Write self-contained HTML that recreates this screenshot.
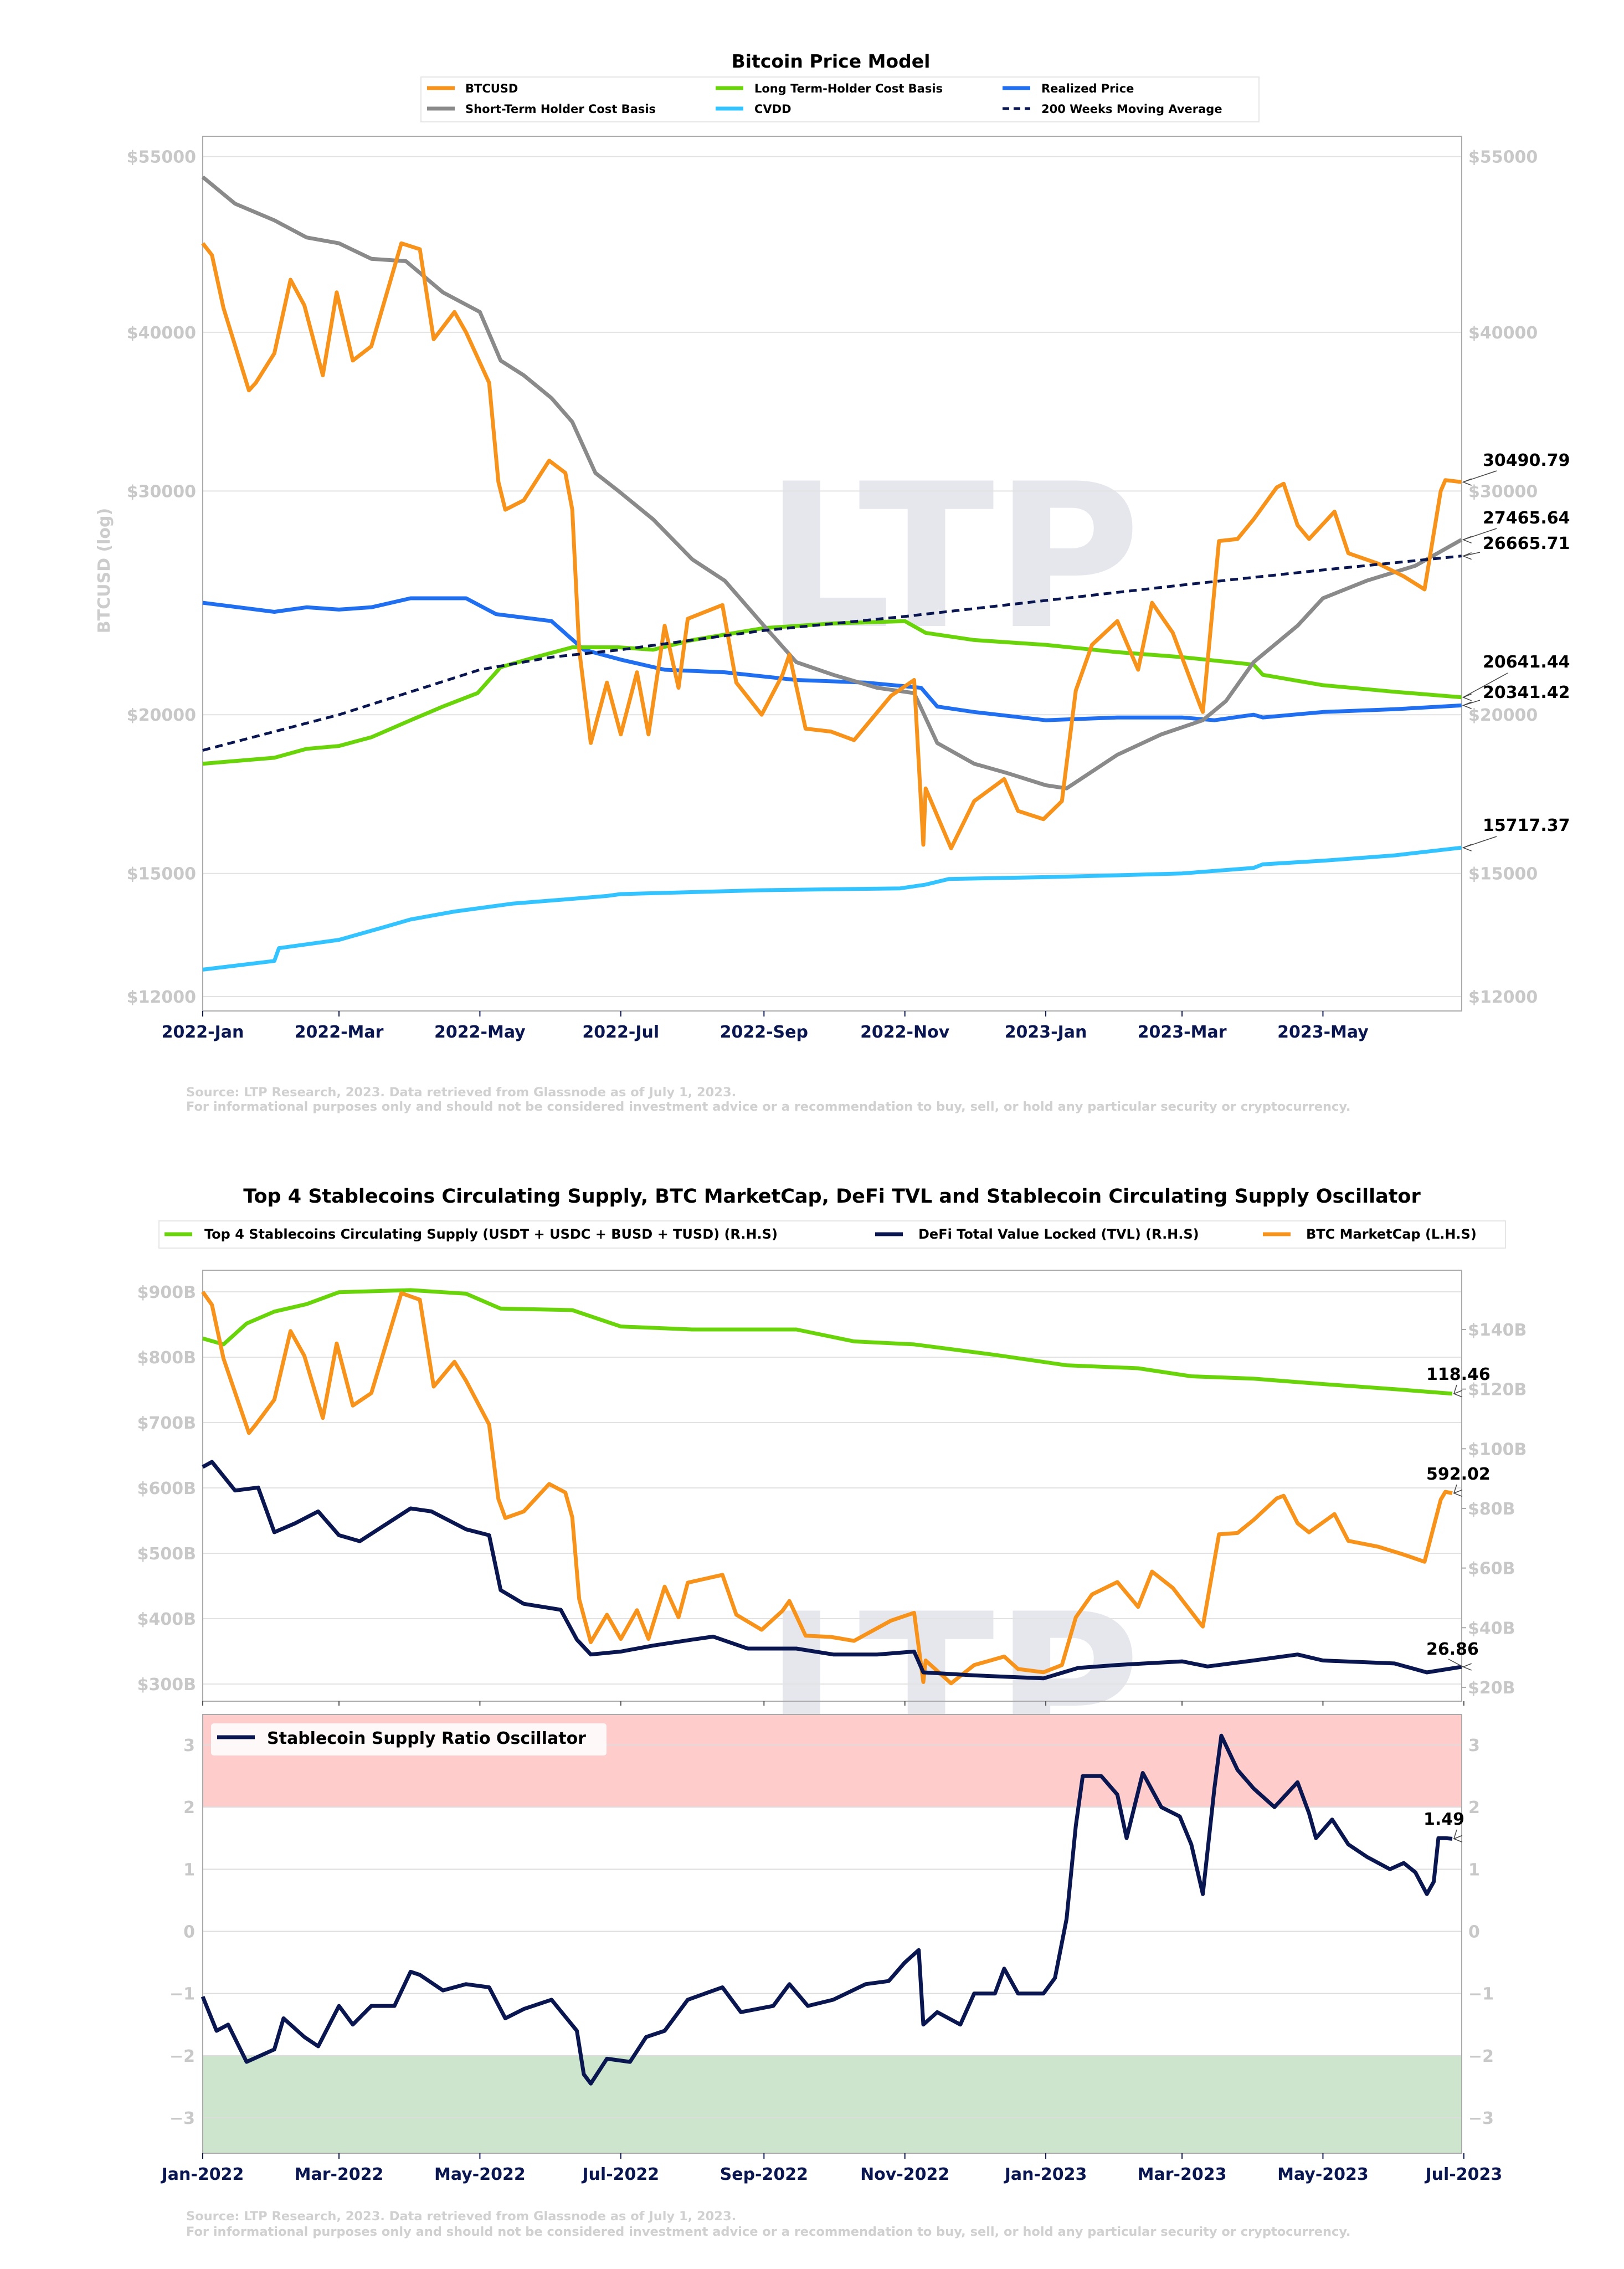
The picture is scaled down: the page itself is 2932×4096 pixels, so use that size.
<!DOCTYPE html>
<html><head><meta charset="utf-8"><style>
html,body{margin:0;padding:0;background:#fff}
svg{display:block;font-family:"DejaVu Sans","Liberation Sans",sans-serif}
</style></head><body>
<svg id="svg" width="2932" height="4096" viewBox="0 0 2932 4096" xmlns="http://www.w3.org/2000/svg">
<rect width="2932" height="4096" fill="#fff"/>
<g id="wm" opacity="0.12">
<text x="1380" y="1130" font-size="360" font-weight="bold" fill="#3a3f70">LTP</text>
<text x="1380" y="3170" font-size="360" font-weight="bold" fill="#3a3f70">LTP</text>
</g>
<text x="1500" y="122" font-size="33" font-weight="bold" text-anchor="middle" fill="#000">Bitcoin Price Model</text>
<g>
<rect x="760" y="139" width="1513" height="81" fill="#fff" stroke="#e6e6e6" stroke-width="2"/>
<line x1="771" y1="159" x2="821" y2="159" stroke="#f7931a" stroke-width="7"/><text x="840" y="167" font-size="21" font-weight="bold">BTCUSD</text>
<line x1="771" y1="196" x2="821" y2="196" stroke="#8a8a8a" stroke-width="7"/><text x="840" y="204" font-size="21" font-weight="bold">Short-Term Holder Cost Basis</text>
<line x1="1292" y1="159" x2="1342" y2="159" stroke="#6ad40a" stroke-width="7"/><text x="1362" y="167" font-size="21" font-weight="bold">Long Term-Holder Cost Basis</text>
<line x1="1292" y1="196" x2="1342" y2="196" stroke="#33c3ff" stroke-width="7"/><text x="1362" y="204" font-size="21" font-weight="bold">CVDD</text>
<line x1="1810" y1="159" x2="1860" y2="159" stroke="#1f6ff0" stroke-width="7"/><text x="1880" y="167" font-size="21" font-weight="bold">Realized Price</text>
<line x1="1810" y1="196" x2="1860" y2="196" stroke="#0a1650" stroke-width="5" stroke-dasharray="12,8"/><text x="1880" y="204" font-size="21" font-weight="bold">200 Weeks Moving Average</text>
</g>
<text transform="translate(198,1030) rotate(-90)" font-size="30" font-weight="bold" fill="#cccccc" text-anchor="middle">BTCUSD (log)</text>
<g id="c1"></g>
<text x="336" y="1979" font-size="22.5" font-weight="bold" fill="#d0d0d0">Source: LTP Research, 2023. Data retrieved from Glassnode as of July 1, 2023.</text>
<text x="336" y="2005" font-size="22.5" font-weight="bold" fill="#d0d0d0">For informational purposes only and should not be considered investment advice or a recommendation to buy, sell, or hold any particular security or cryptocurrency.</text>

<text x="1502" y="2171" font-size="35" font-weight="bold" text-anchor="middle" fill="#000">Top 4 Stablecoins Circulating Supply, BTC MarketCap, DeFi TVL and Stablecoin Circulating Supply Oscillator</text>
<g>
<rect x="287" y="2204" width="2431" height="49" fill="#fff" stroke="#e6e6e6" stroke-width="2"/>
<line x1="297" y1="2228" x2="347" y2="2228" stroke="#6ad40a" stroke-width="7"/><text x="369" y="2236" font-size="24" font-weight="bold">Top 4 Stablecoins Circulating Supply (USDT + USDC + BUSD + TUSD) (R.H.S)</text>
<line x1="1580" y1="2228" x2="1630" y2="2228" stroke="#0a1650" stroke-width="7"/><text x="1658" y="2236" font-size="24" font-weight="bold">DeFi Total Value Locked (TVL) (R.H.S)</text>
<line x1="2280" y1="2228" x2="2330" y2="2228" stroke="#f7931a" stroke-width="7"/><text x="2358" y="2236" font-size="24" font-weight="bold">BTC MarketCap (L.H.S)</text>
</g>
<g id="c2"></g>
<g id="c3"></g>
<text x="336" y="4008" font-size="22.5" font-weight="bold" fill="#d0d0d0">Source: LTP Research, 2023. Data retrieved from Glassnode as of July 1, 2023.</text>
<text x="336" y="4036" font-size="22.5" font-weight="bold" fill="#d0d0d0">For informational purposes only and should not be considered investment advice or a recommendation to buy, sell, or hold any particular security or cryptocurrency.</text>
</svg>
<script>
// ---------- DATA ----------
const btcDates=["2022-01-01","2022-01-05","2022-01-10","2022-01-21","2022-01-24","2022-02-01","2022-02-08","2022-02-14","2022-02-22","2022-02-28","2022-03-07","2022-03-15","2022-03-28","2022-04-05","2022-04-11","2022-04-20","2022-04-25","2022-05-05","2022-05-09","2022-05-12","2022-05-20","2022-05-31","2022-06-07","2022-06-10","2022-06-13","2022-06-18","2022-06-25","2022-07-01","2022-07-08","2022-07-13","2022-07-20","2022-07-26","2022-07-30","2022-08-14","2022-08-20","2022-08-31","2022-09-09","2022-09-12","2022-09-19","2022-09-30","2022-10-10","2022-10-26","2022-11-05","2022-11-09","2022-11-10","2022-11-21","2022-12-01","2022-12-14","2022-12-20","2022-12-31","2023-01-08","2023-01-14","2023-01-21","2023-02-01","2023-02-10","2023-02-16","2023-02-25","2023-03-09","2023-03-10","2023-03-17","2023-03-25","2023-04-01","2023-04-11","2023-04-14","2023-04-20","2023-04-25","2023-05-06","2023-05-12","2023-05-25","2023-06-05","2023-06-14","2023-06-21","2023-06-23","2023-06-30"];
const btcPrice=[47000,46000,41800,36000,36500,38500,44000,42000,37000,43000,38000,39000,47000,46500,39500,41500,40000,36500,30500,29000,29500,31700,31000,29000,22500,19000,21200,19300,21600,19300,23500,21000,23800,24400,21200,20000,21500,22300,19500,19400,19100,20700,21300,15800,17500,15700,17100,17800,16800,16550,17100,20900,22700,23700,21700,24500,23200,20300,20100,27400,27500,28500,30200,30400,28200,27500,28900,26800,26300,25700,25100,30000,30600,30490.79];
const mcapDates=["2022-01-01","2022-01-05","2022-01-10","2022-01-21","2022-01-24","2022-02-01","2022-02-08","2022-02-14","2022-02-22","2022-02-28","2022-03-07","2022-03-15","2022-03-28","2022-04-05","2022-04-11","2022-04-20","2022-04-25","2022-05-05","2022-05-09","2022-05-12","2022-05-20","2022-05-31","2022-06-07","2022-06-10","2022-06-13","2022-06-18","2022-06-25","2022-07-01","2022-07-08","2022-07-13","2022-07-20","2022-07-26","2022-07-30","2022-08-14","2022-08-20","2022-08-31","2022-09-09","2022-09-12","2022-09-19","2022-09-30","2022-10-10","2022-10-26","2022-11-05","2022-11-09","2022-11-10","2022-11-21","2022-12-01","2022-12-14","2022-12-20","2022-12-31","2023-01-08","2023-01-14","2023-01-21","2023-02-01","2023-02-10","2023-02-16","2023-02-25","2023-03-09","2023-03-10","2023-03-17","2023-03-25","2023-04-01","2023-04-11","2023-04-14","2023-04-20","2023-04-25","2023-05-06","2023-05-12","2023-05-25","2023-06-05","2023-06-14","2023-06-21","2023-06-23","2023-06-26"];
const btcMcap=[900,880,798,684,697,735,840,802,707,821,726,745,898,888,755,793,764,697,583,554,564,606,593,555,430,364,406,369,413,369,449,402,455,467,406,383,412,427,374,372,366,397,409,303,336,301,329,342,323,318,329,402,437,456,418,472,447,392,388,529,531,551,584,588,546,532,560,519,510,498,487,582,594,592.02];
const sthDates=["2022-01-01","2022-01-15","2022-02-01","2022-02-15","2022-03-01","2022-03-15","2022-03-30","2022-04-15","2022-05-01","2022-05-10","2022-05-20","2022-06-01","2022-06-10","2022-06-20","2022-06-30","2022-07-15","2022-08-01","2022-08-15","2022-09-01","2022-09-15","2022-10-01","2022-10-20","2022-11-05","2022-11-15","2022-12-01","2022-12-15","2023-01-01","2023-01-10","2023-02-01","2023-02-20","2023-03-10","2023-03-20","2023-04-01","2023-04-20","2023-05-01","2023-05-20","2023-06-10","2023-06-30"];
const sthValues=[53000,50500,49000,47500,47000,45700,45500,43000,41500,38000,37000,35500,34000,31000,30000,28500,26500,25500,23500,22000,21500,21000,20800,19000,18300,18000,17600,17500,18600,19300,19800,20500,22000,23500,24700,25500,26200,27465.64];
const lthDates=["2022-01-01","2022-02-01","2022-02-15","2022-03-01","2022-03-15","2022-04-01","2022-04-15","2022-04-30","2022-05-10","2022-05-25","2022-06-10","2022-06-30","2022-07-15","2022-08-01","2022-09-01","2022-10-01","2022-11-01","2022-11-10","2022-12-01","2023-01-01","2023-02-01","2023-03-01","2023-04-01","2023-04-05","2023-05-01","2023-06-01","2023-06-30"];
const lthValues=[18300,18500,18800,18900,19200,19800,20300,20800,21800,22200,22600,22600,22500,22900,23400,23600,23700,23200,22900,22700,22400,22200,21900,21500,21100,20850,20641.44];
const rpDates=["2022-01-01","2022-02-01","2022-02-15","2022-03-01","2022-03-15","2022-04-01","2022-04-25","2022-05-08","2022-06-01","2022-06-15","2022-07-01","2022-07-20","2022-08-15","2022-09-15","2022-10-15","2022-11-08","2022-11-15","2022-12-01","2023-01-01","2023-02-01","2023-03-01","2023-03-15","2023-04-01","2023-04-05","2023-05-01","2023-06-01","2023-06-30"];
const rpValues=[24500,24100,24300,24200,24300,24700,24700,24000,23700,22500,22100,21700,21600,21300,21200,21000,20300,20100,19800,19900,19900,19800,20000,19900,20100,20200,20341.42];
const wmaDates=["2022-01-01","2022-03-01","2022-05-01","2022-06-01","2022-07-01","2022-09-01","2022-11-01","2023-01-01","2023-03-01","2023-05-01","2023-06-30"];
const wmaValues=[18750,20000,21700,22200,22500,23300,23900,24600,25300,26000,26665.71];
const cvddDates=["2022-01-01","2022-02-01","2022-02-03","2022-03-01","2022-03-20","2022-04-01","2022-04-20","2022-05-15","2022-06-05","2022-06-25","2022-07-01","2022-08-30","2022-10-30","2022-11-10","2022-11-20","2023-01-01","2023-02-01","2023-03-01","2023-04-01","2023-04-05","2023-05-01","2023-06-01","2023-06-30"];
const cvddValues=[12600,12800,13100,13300,13600,13800,14000,14200,14300,14400,14450,14550,14600,14700,14850,14900,14950,15000,15150,15250,15350,15500,15717.37];
const yTicks1=[12000,15000,20000,30000,40000,55000];
const xTickDates1=["2022-01-01","2022-03-01","2022-05-01","2022-07-01","2022-09-01","2022-11-01","2023-01-01","2023-03-01","2023-05-01"];
const xTickLabels1=["2022-Jan","2022-Mar","2022-May","2022-Jul","2022-Sep","2022-Nov","2023-Jan","2023-Mar","2023-May"];

const scDates=["2022-01-01","2022-01-10","2022-01-20","2022-02-01","2022-02-15","2022-03-01","2022-04-01","2022-04-25","2022-05-10","2022-06-10","2022-07-01","2022-08-01","2022-09-15","2022-10-10","2022-11-05","2022-12-10","2023-01-10","2023-02-10","2023-03-05","2023-04-01","2023-05-01","2023-06-01","2023-06-26"];
const scValues=[137,135,142,146,148.5,152.5,153.2,152,147,146.5,141,140,140,136,135,131.5,128,127,124.3,123.5,121.7,120,118.46];
const tvlDates=["2022-01-01","2022-01-05","2022-01-15","2022-01-25","2022-02-01","2022-02-10","2022-02-20","2022-03-01","2022-03-10","2022-04-01","2022-04-10","2022-04-25","2022-05-05","2022-05-10","2022-05-20","2022-06-05","2022-06-12","2022-06-18","2022-07-01","2022-07-15","2022-08-01","2022-08-10","2022-08-25","2022-09-15","2022-10-01","2022-10-20","2022-11-05","2022-11-09","2022-12-01","2022-12-31","2023-01-15","2023-02-01","2023-03-01","2023-03-12","2023-04-01","2023-04-20","2023-05-01","2023-06-01","2023-06-15","2023-06-30"];
const tvlValues=[93.9,95.6,86,87,72,75,79,71,69,80,79,73,71,52.6,48,46,36,31,32,34,36,37,33,33,31,31,32,25,24,23,26.5,27.5,28.7,27,29,31,29,28,25,26.86];
const oscDates=["2022-01-01","2022-01-07","2022-01-12","2022-01-20","2022-02-01","2022-02-05","2022-02-14","2022-02-20","2022-03-01","2022-03-07","2022-03-15","2022-03-25","2022-04-01","2022-04-05","2022-04-15","2022-04-25","2022-05-05","2022-05-12","2022-05-20","2022-06-01","2022-06-12","2022-06-15","2022-06-18","2022-06-25","2022-07-05","2022-07-12","2022-07-20","2022-07-30","2022-08-14","2022-08-22","2022-09-05","2022-09-12","2022-09-20","2022-10-01","2022-10-15","2022-10-25","2022-11-01","2022-11-07","2022-11-09","2022-11-15","2022-11-25","2022-12-01","2022-12-10","2022-12-14","2022-12-20","2022-12-31","2023-01-05","2023-01-10","2023-01-14","2023-01-17","2023-01-25","2023-02-01","2023-02-05","2023-02-12","2023-02-20","2023-02-28","2023-03-05","2023-03-10","2023-03-15","2023-03-18","2023-03-25","2023-04-01","2023-04-10","2023-04-20","2023-04-25","2023-04-28","2023-05-05","2023-05-12","2023-05-20","2023-05-30","2023-06-05","2023-06-10","2023-06-15","2023-06-18","2023-06-20","2023-06-23","2023-06-26"];
const oscValues=[-1.05,-1.6,-1.5,-2.1,-1.9,-1.4,-1.7,-1.85,-1.2,-1.5,-1.2,-1.2,-0.65,-0.7,-0.95,-0.85,-0.9,-1.4,-1.25,-1.1,-1.6,-2.3,-2.45,-2.05,-2.1,-1.7,-1.6,-1.1,-0.9,-1.3,-1.2,-0.85,-1.2,-1.1,-0.85,-0.8,-0.5,-0.3,-1.5,-1.3,-1.5,-1.0,-1.0,-0.6,-1.0,-1.0,-0.75,0.2,1.7,2.5,2.5,2.2,1.5,2.55,2.0,1.85,1.4,0.6,2.3,3.15,2.6,2.3,2.0,2.4,1.9,1.5,1.8,1.4,1.2,1.0,1.1,0.95,0.6,0.8,1.5,1.5,1.49];
const leftTicks2=[300,400,500,600,700,800,900];
const rightTicks2=[20,40,60,80,100,120,140];
const oscTicks=[-3,-2,-1,0,1,2,3];
const xTickDates2=["2022-01-01","2022-03-01","2022-05-01","2022-07-01","2022-09-01","2022-11-01","2023-01-01","2023-03-01","2023-05-01","2023-07-01"];
const xTickLabels2=["Jan-2022","Mar-2022","May-2022","Jul-2022","Sep-2022","Nov-2022","Jan-2023","Mar-2023","May-2023","Jul-2023"];

// ---------- helpers ----------
const NS="http://www.w3.org/2000/svg";
const T0=Date.UTC(2022,0,1);
function day(s){const p=s.split("-");return (Date.UTC(+p[0],+p[1]-1,+p[2])-T0)/86400000;}
function mk(tag,parent,attrs){const e=document.createElementNS(NS,tag);for(const k in attrs)e.setAttribute(k,attrs[k]);parent.appendChild(e);return e;}
function txt(parent,x,y,s,size,fill,anchor,weight){const e=mk("text",parent,{x:x,y:y,"font-size":size,fill:fill,"text-anchor":anchor||"start","font-weight":weight||"normal"});e.textContent=s;return e;}
function pathD(dates,vals,xf,yf){return dates.map((d,i)=>(i?"L":"M")+xf(day(d)).toFixed(1)+","+yf(vals[i]).toFixed(1)).join("");}
function series(parent,dates,vals,xf,yf,color,w,name,dash){
  const p=mk("path",parent,{d:pathD(dates,vals,xf,yf),fill:"none",stroke:color,"stroke-width":w,"stroke-linejoin":"round"});
  if(dash)p.setAttribute("stroke-dasharray",dash);
  
  
  return p;
}
function annot(parent,lastDate,lastVal,xf,yf,ty,label,tx,lx,ly){
  const x=xf(day(lastDate)),y=yf(lastVal);
  mk("line",parent,{x1:x+3,y1:y,x2:lx,y2:ly,stroke:"#444","stroke-width":1.5});
  mk("path",parent,{d:"M"+(x+18)+","+(y-6)+"L"+(x+3)+","+y+"L"+(x+18)+","+(y+6),fill:"none",stroke:"#444","stroke-width":1.5});
  const t=txt(parent,tx,ty,label,30,"#000","start","bold");
  
  
}

// ---------- chart 1 ----------
const c1=document.getElementById("c1");
const L1=366,R1=2639,T1=246,B1=1825;
const x1=d=>L1+4.17*d;
const y1=v=>1799-996*Math.log(v/12000);
yTicks1.forEach(v=>{
  const g=mk("line",c1,{x1:L1,x2:R1,y1:y1(v),y2:y1(v),stroke:"#e2e2e2","stroke-width":2});
  
  
  const a=txt(c1,L1-12,y1(v)+11,"$"+v,30,"#c8c8c8","end","bold");
  
  
  const b=txt(c1,R1+12,y1(v)+11,"$"+v,30,"#c8c8c8","start","bold");
  
  
});
const fr1=mk("rect",c1,{x:L1,y:T1,width:R1-L1,height:B1-T1,fill:"none",stroke:"#aaaaaa","stroke-width":2});


xTickDates1.forEach((d,i)=>{
  const x=x1(day(d));
  mk("line",c1,{x1:x,x2:x,y1:B1,y2:B1+10,stroke:"#0a1650","stroke-width":2});
  const t=txt(c1,x,1873,xTickLabels1[i],30,"#0a1650","middle","bold");
  
  
});
series(c1,cvddDates,cvddValues,x1,y1,"#33c3ff",7,"cvdd-line");
series(c1,rpDates,rpValues,x1,y1,"#1f6ff0",7,"realized-price-line");
series(c1,lthDates,lthValues,x1,y1,"#6ad40a",7,"lth-cost-basis-line");
series(c1,sthDates,sthValues,x1,y1,"#8a8a8a",7,"sth-cost-basis-line");
series(c1,btcDates,btcPrice,x1,y1,"#f7931a",7,"btcusd-line");
series(c1,wmaDates,wmaValues,x1,y1,"#0a1650",5,"wma200-line","14,9");
annot(c1,btcDates[btcDates.length-1],btcPrice[btcPrice.length-1],x1,y1,841,"30490.79",2677,2702,850);
annot(c1,sthDates[sthDates.length-1],sthValues[sthValues.length-1],x1,y1,945,"27465.64",2677,2702,954);
annot(c1,wmaDates[wmaDates.length-1],wmaValues[wmaValues.length-1],x1,y1,991,"26665.71",2677,2672,997);
annot(c1,lthDates[lthDates.length-1],lthValues[lthValues.length-1],x1,y1,1205,"20641.44",2677,2722,1215);
annot(c1,rpDates[rpDates.length-1],rpValues[rpValues.length-1],x1,y1,1260,"20341.42",2677,2672,1264);
annot(c1,cvddDates[cvddDates.length-1],cvddValues[cvddValues.length-1],x1,y1,1500,"15717.37",2677,2702,1510);

// ---------- chart 2 (upper) ----------
const c2=document.getElementById("c2");
const L2=366,R2=2639,T2=2293,B2=3071;
const x2=d=>L2+4.17*d;
const yL=v=>2332+(900-v)*1.18;
const yR=v=>2400+(140-v)*5.383;
leftTicks2.forEach(v=>{
  const g=mk("line",c2,{x1:L2,x2:R2,y1:yL(v),y2:yL(v),stroke:"#e2e2e2","stroke-width":2});
  
  
  const t=txt(c2,L2-12,yL(v)+11,"$"+v+"B",30,"#c8c8c8","end","bold");
  
  
});
rightTicks2.forEach(v=>{
  mk("line",c2,{x1:R2,x2:R2+8,y1:yR(v),y2:yR(v),stroke:"#aaa","stroke-width":2});
  const t=txt(c2,R2+11,yR(v)+11,"$"+v+"B",30,"#c8c8c8","start","bold");
  
  
});
const fr2=mk("rect",c2,{x:L2,y:T2,width:R2-L2,height:B2-T2,fill:"none",stroke:"#aaaaaa","stroke-width":2});


series(c2,scDates,scValues,x2,yR,"#6ad40a",7,"stablecoin-supply-line");
series(c2,mcapDates,btcMcap,x2,yL,"#f7931a",7,"btc-marketcap-line");
series(c2,tvlDates,tvlValues,x2,yR,"#0a1650",7,"defi-tvl-line");
annot(c2,scDates[scDates.length-1],scValues[scValues.length-1],x2,yR,2491,"118.46",2575,2630,2500);
annot(c2,mcapDates[mcapDates.length-1],btcMcap[btcMcap.length-1],x2,yL,2671,"592.02",2575,2630,2680);
annot(c2,tvlDates[tvlDates.length-1],tvlValues[tvlValues.length-1],x2,yR,2987,"26.86",2575,2615,2995);

// ---------- chart 3 (oscillator) ----------
const c3=document.getElementById("c3");
const T3=3095,B3=3887;
const yO=v=>3486.5-112.17*v;
const red=mk("rect",c3,{x:L2,y:T3,width:R2-L2,height:yO(2)-T3,fill:"#ffcccc"});


const grn=mk("rect",c3,{x:L2,y:yO(-2),width:R2-L2,height:B3-yO(-2),fill:"#cde5cd"});


oscTicks.forEach(v=>{
  const g=mk("line",c3,{x1:L2,x2:R2,y1:yO(v),y2:yO(v),stroke:"#dddddd","stroke-width":2});
  
  
  const s=(v<0?"\u2212"+(-v):""+v);
  const a=txt(c3,L2-14,yO(v)+11,s,30,"#c8c8c8","end","bold");
  
  
  const b=txt(c3,R2+12,yO(v)+11,s,30,"#c8c8c8","start","bold");
  
  
});
const fr3=mk("rect",c3,{x:L2,y:T3,width:R2-L2,height:B3-T3,fill:"none",stroke:"#aaaaaa","stroke-width":2});


series(c3,oscDates,oscValues,x2,yO,"#0a1650",7,"ssr-oscillator-line");
annot(c3,oscDates[oscDates.length-1],oscValues[oscValues.length-1],x2,yO,3294,"1.49",2570,2630,3303);
const lg=mk("rect",c3,{x:381,y:3111,width:714,height:58,fill:"#fff","fill-opacity":0.85,rx:5});


mk("line",c3,{x1:392,y1:3136,x2:460,y2:3136,stroke:"#0a1650","stroke-width":7});
const lt=txt(c3,482,3148,"Stablecoin Supply Ratio Oscillator",30,"#000","start","bold");


xTickDates2.forEach((d,i)=>{
  const x=x2(day(d));
  mk("line",c3,{x1:x,x2:x,y1:B3,y2:B3+10,stroke:"#0a1650","stroke-width":2});
  mk("line",c2,{x1:x,x2:x,y1:B2,y2:B2+8,stroke:"#555","stroke-width":2});
  const t=txt(c3,x,3935,xTickLabels2[i],30,"#0a1650","middle","bold");
  
  
});
</script>
</body></html>
